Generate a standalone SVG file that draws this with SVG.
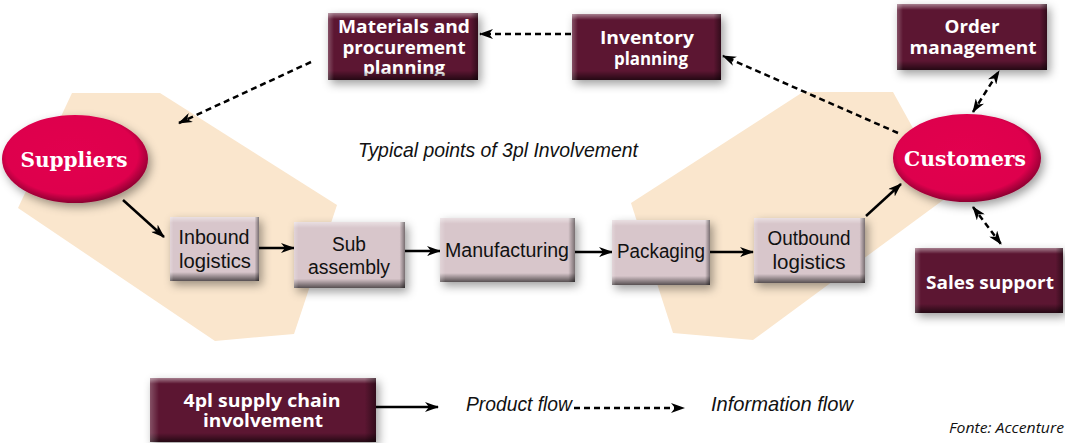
<svg xmlns="http://www.w3.org/2000/svg" width="1065" height="443" viewBox="0 0 1065 443">
  <defs>
    <style>
      .zone { fill: #fae6cd; }
      .dark { fill: #5c1233; }
      .light { fill: #d8c6cb; }
      .oval { fill: url(#ovalFill); }
      .bevV { fill: url(#bevelV); }
      .bevH { fill: url(#bevelH); }
      .wt { fill: #ffffff; font-family: "Open Sans", "Liberation Sans", sans-serif; font-weight: 700; font-size: 17.5px; text-anchor: middle; }
      .ov { fill: #ffffff; font-family: "DejaVu Serif", "Liberation Serif", serif; font-weight: 700; font-size: 21px; text-anchor: middle; }
      .pt { fill: #111111; font-family: "Liberation Sans Narrow", "Liberation Sans", sans-serif; font-size: 20px; text-anchor: middle; }
      .it { fill: #111111; font-family: "Liberation Sans Narrow", "Liberation Sans", sans-serif; font-size: 21px; font-style: italic; }
      .src { fill: #111111; font-family: "Open Sans", "Liberation Sans", sans-serif; font-size: 14px; font-style: italic; }
      .flow { fill: none; stroke: #000; stroke-width: 2.5; marker-end: url(#head); }
      .info { fill: none; stroke: #000; stroke-width: 2.5; stroke-dasharray: 6 4; marker-end: url(#head); }
      .both { marker-start: url(#head); }
    </style>
    <filter id="shadow" x="-30%" y="-40%" width="160%" height="180%">
      <feDropShadow dx="3" dy="4" stdDeviation="5" flood-color="#000" flood-opacity="0.38"/>
    </filter>
    <linearGradient id="bevelV" x1="0" y1="0" x2="0" y2="1">
      <stop offset="0" stop-color="#fff" stop-opacity="0.45"/>
      <stop offset="0.09" stop-color="#fff" stop-opacity="0"/>
      <stop offset="0.86" stop-color="#000" stop-opacity="0"/>
      <stop offset="1" stop-color="#000" stop-opacity="0.6"/>
    </linearGradient>
    <linearGradient id="bevelH" x1="0" y1="0" x2="1" y2="0">
      <stop offset="0" stop-color="#fff" stop-opacity="0.25"/>
      <stop offset="0.04" stop-color="#fff" stop-opacity="0"/>
      <stop offset="0.95" stop-color="#000" stop-opacity="0"/>
      <stop offset="1" stop-color="#000" stop-opacity="0.45"/>
    </linearGradient>
    <radialGradient id="ovalFill" cx="0.48" cy="0.45" r="0.55">
      <stop offset="0" stop-color="#e2004f"/>
      <stop offset="0.82" stop-color="#de004d"/>
      <stop offset="1" stop-color="#8c0031"/>
    </radialGradient>
    <clipPath id="matClip">
      <rect x="328" y="13" width="150" height="63"/>
    </clipPath>
    <marker id="head" viewBox="0 0 14 10" refX="13" refY="5" markerWidth="14" markerHeight="10" markerUnits="userSpaceOnUse" orient="auto-start-reverse">
      <path d="M0,0 L14,5 L0,10 L4,5 z" fill="#000"/>
    </marker>
  </defs>

  <rect width="1065" height="443" fill="#ffffff"/>

  <!-- areas where 3pl providers typically take part -->
  <g id="zones">
    <polygon class="zone" points="72,93 160,93 337,205 294,334 215,341 18,208"/>
    <polygon class="zone" points="631,203 803,92 893,92 950,195 753,340 673,333"/>
  </g>

  <text class="it" x="358" y="157" textLength="280" lengthAdjust="spacingAndGlyphs">Typical points of 3pl Involvement</text>

  <!-- connectors -->
  <g id="connectors">
    <line class="flow" x1="123" y1="200" x2="164" y2="237"/>
    <line class="flow" x1="259" y1="248" x2="294" y2="248"/>
    <line class="flow" x1="405" y1="251" x2="440" y2="251"/>
    <line class="flow" x1="575" y1="252" x2="612" y2="252"/>
    <line class="flow" x1="710" y1="252" x2="753" y2="252"/>
    <line class="flow" x1="866" y1="216" x2="901" y2="184"/>
    <line class="info" x1="571" y1="34" x2="480" y2="34"/>
    <line class="info" x1="898" y1="133" x2="723" y2="56"/>
    <line class="info" x1="311" y1="62" x2="179" y2="123"/>
    <line class="info both" x1="973" y1="112" x2="999" y2="71"/>
    <line class="info both" x1="973" y1="207" x2="1001" y2="244"/>
  </g>

  <!-- supply chain participants -->
  <g id="suppliers">
    <ellipse class="oval" cx="75" cy="159" rx="73" ry="44" filter="url(#shadow)"/>
    <text class="ov" x="74" y="167" textLength="107" lengthAdjust="spacingAndGlyphs">Suppliers</text>
  </g>
  <g id="customers">
    <ellipse class="oval" cx="967" cy="158" rx="74" ry="44" filter="url(#shadow)"/>
    <text class="ov" x="965" y="166" textLength="122" lengthAdjust="spacingAndGlyphs">Customers</text>
  </g>

  <!-- product flow stages -->
  <g id="inbound">
    <rect class="light" x="170" y="217" width="89" height="64" filter="url(#shadow)"/>
    <rect class="bevV" x="170" y="217" width="89" height="64"/>
    <rect class="bevH" x="170" y="217" width="89" height="64"/>
    <text class="pt" x="214" y="244" textLength="71" lengthAdjust="spacingAndGlyphs">Inbound</text>
    <text class="pt" x="215" y="268" textLength="72" lengthAdjust="spacingAndGlyphs">logistics</text>
  </g>
  <g id="subassembly">
    <rect class="light" x="294" y="222" width="111" height="66" filter="url(#shadow)"/>
    <rect class="bevV" x="294" y="222" width="111" height="66"/>
    <rect class="bevH" x="294" y="222" width="111" height="66"/>
    <text class="pt" x="349" y="251" textLength="34" lengthAdjust="spacingAndGlyphs">Sub</text>
    <text class="pt" x="349" y="274" textLength="82" lengthAdjust="spacingAndGlyphs">assembly</text>
  </g>
  <g id="manufacturing">
    <rect class="light" x="440" y="218" width="135" height="64" filter="url(#shadow)"/>
    <rect class="bevV" x="440" y="218" width="135" height="64"/>
    <rect class="bevH" x="440" y="218" width="135" height="64"/>
    <text class="pt" x="507" y="257" textLength="124" lengthAdjust="spacingAndGlyphs">Manufacturing</text>
  </g>
  <g id="packaging">
    <rect class="light" x="612" y="220" width="98" height="65" filter="url(#shadow)"/>
    <rect class="bevV" x="612" y="220" width="98" height="65"/>
    <rect class="bevH" x="612" y="220" width="98" height="65"/>
    <text class="pt" x="661" y="258" textLength="88" lengthAdjust="spacingAndGlyphs">Packaging</text>
  </g>
  <g id="outbound">
    <rect class="light" x="754" y="218" width="111" height="65" filter="url(#shadow)"/>
    <rect class="bevV" x="754" y="218" width="111" height="65"/>
    <rect class="bevH" x="754" y="218" width="111" height="65"/>
    <text class="pt" x="809" y="245" textLength="83" lengthAdjust="spacingAndGlyphs">Outbound</text>
    <text class="pt" x="809" y="269" textLength="73" lengthAdjust="spacingAndGlyphs">logistics</text>
  </g>

  <!-- 4pl planning functions -->
  <g id="materials">
    <rect class="dark" x="328" y="13" width="150" height="67" filter="url(#shadow)"/>
    <g clip-path="url(#matClip)">
      <text class="wt" x="404" y="33" textLength="132" lengthAdjust="spacingAndGlyphs">Materials and</text>
      <text class="wt" x="404" y="54" textLength="123" lengthAdjust="spacingAndGlyphs">procurement</text>
      <text class="wt" x="404" y="74" textLength="82" lengthAdjust="spacingAndGlyphs">planning</text>
    </g>
    <rect class="bevV" x="328" y="13" width="150" height="67"/>
    <rect class="bevH" x="328" y="13" width="150" height="67"/>
  </g>
  <g id="inventory">
    <rect class="dark" x="572" y="14" width="149" height="66" filter="url(#shadow)"/>
    <rect class="bevV" x="572" y="14" width="149" height="66"/>
    <rect class="bevH" x="572" y="14" width="149" height="66"/>
    <text class="wt" x="647" y="44" textLength="94" lengthAdjust="spacingAndGlyphs">Inventory</text>
    <text class="wt" x="651" y="65" textLength="74" lengthAdjust="spacingAndGlyphs">planning</text>
  </g>
  <g id="order">
    <rect class="dark" x="897" y="4" width="150" height="66" filter="url(#shadow)"/>
    <rect class="bevV" x="897" y="4" width="150" height="66"/>
    <rect class="bevH" x="897" y="4" width="150" height="66"/>
    <text class="wt" x="972" y="33" textLength="55" lengthAdjust="spacingAndGlyphs">Order</text>
    <text class="wt" x="973" y="54" textLength="127" lengthAdjust="spacingAndGlyphs">management</text>
  </g>
  <g id="sales">
    <rect class="dark" x="915" y="248" width="148" height="65" filter="url(#shadow)"/>
    <rect class="bevV" x="915" y="248" width="148" height="65"/>
    <rect class="bevH" x="915" y="248" width="148" height="65"/>
    <text class="wt" x="990" y="289" textLength="128" lengthAdjust="spacingAndGlyphs">Sales support</text>
  </g>

  <!-- legend -->
  <g id="legend">
    <rect class="dark" x="150" y="378" width="226" height="64" filter="url(#shadow)"/>
    <rect class="bevV" x="150" y="378" width="226" height="64"/>
    <rect class="bevH" x="150" y="378" width="226" height="64"/>
    <text class="wt" x="262" y="407" textLength="157" lengthAdjust="spacingAndGlyphs">4pl supply chain</text>
    <text class="wt" x="263" y="427" textLength="120" lengthAdjust="spacingAndGlyphs">involvement</text>
    <line class="flow" x1="376" y1="407" x2="438" y2="407"/>
    <text class="it" x="466" y="411" textLength="106" lengthAdjust="spacingAndGlyphs">Product flow</text>
    <line class="info" x1="574" y1="408" x2="684" y2="408"/>
    <text class="it" x="711" y="411" textLength="142" lengthAdjust="spacingAndGlyphs">Information flow</text>
  </g>

  <text class="src" x="949" y="433" textLength="115" lengthAdjust="spacingAndGlyphs">Fonte: Accenture</text>
</svg>
